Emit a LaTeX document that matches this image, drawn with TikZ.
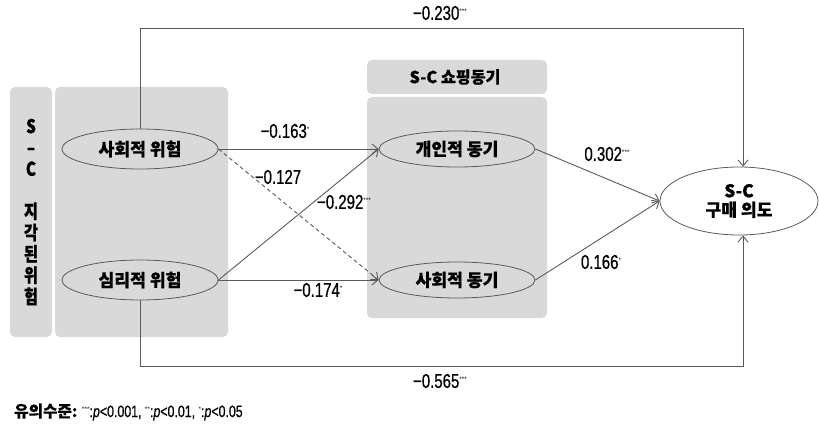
\documentclass[tikz,border=0pt]{standalone}
\usepackage{fontspec}
\setmainfont{Liberation Sans}[FakeStretch=0.75, FakeBold=0.7]
\newfontfamily\starfont{Liberation Sans}
\newfontfamily\kr{Noto Sans CJK KR}[FakeStretch=0.98, FakeBold=0.5]
\newfontfamily\krnarrow{Noto Sans CJK KR}[FakeStretch=0.8, FakeBold=0.5]
\usetikzlibrary{arrows.meta,shapes.geometric,calc}

\definecolor{panel}{HTML}{D9D9D9}
\definecolor{edge}{HTML}{5A5A5A}

% significance marks as small raised stars
\newcommand{\sig}[1]{\raisebox{0.65ex}{\starfont\fontsize{6.5}{6.5}\selectfont #1}}

\tikzset{
  panelbox/.style={fill=panel, draw=none, rounded corners=5pt},
  latent/.style={ellipse, draw=edge, line width=0.8pt, fill=panel,
    minimum width=156pt, minimum height=40pt, inner sep=0pt,
    font=\kr\bfseries\fontsize{17.5}{17.5}\selectfont},
  mediator/.style={latent, minimum height=36pt},
  outcome/.style={latent, fill=white, minimum width=158pt, minimum height=68pt,
    align=center, font=\kr\bfseries\fontsize{17.5}{19}\selectfont},
  path/.style={draw=edge, line width=0.9pt, -{Straight Barb[length=6pt,width=10pt]}},
  weak/.style={path, dashed, dash pattern=on 4pt off 3pt},
  coef/.style={font=\fontsize{20}{20}\selectfont, inner sep=1pt},
  head/.style={font=\kr\bfseries\fontsize{16.5}{16.5}\selectfont, inner sep=0pt},
}

\begin{document}
\begin{tikzpicture}[x=1pt,y=-1pt]
  \useasboundingbox (0,0) rectangle (819,430);

  % grouping panels
  \fill[panelbox] (10,87) rectangle (52,337);
  \fill[panelbox] (55,87) rectangle (228,337);
  \fill[panelbox] (367,60) rectangle (547,94);
  \fill[panelbox] (367,97) rectangle (547,318);

  % vertical title of the risk panel
  \node[inner sep=0pt, align=center, font=\krnarrow\bfseries\fontsize{19}{21.3}\selectfont]
    (risk) at (31,212) {S\\–\\C\\\mbox{}\\지\\각\\된\\위\\험};
  \node[head] (motiv) at (455,77) {S-C 쇼핑동기};

  % latent variables
  \node[latent] (sr) at (140,149) {사회적 위험};
  \node[latent] (pr) at (140,280) {심리적 위험};
  \node[mediator] (pm) at (457,149) {개인적 동기};
  \node[mediator] (sm) at (457,280) {사회적 동기};
  \node[outcome] (pi) at (739,201) {S-C\\구매 의도};

  % structural paths
  \draw[path] (sr.east) -- (pm.west);
  \draw[weak] (sr.east) -- (sm.west);
  \draw[path] (pr.east) -- (pm.west);
  \draw[path] (pr.east) -- (sm.west);
  \draw[path] (pm.east) -- (pi.west);
  \draw[path] (sm.east) -- (pi.west);

  % direct effects routed round the mediators
  \coordinate (topR) at (743,28);
  \coordinate (botR) at (743,366);
  \draw[path] (sr.north) |- (topR) -- (topR |- pi.north);
  \draw[path] (pr.south) |- (botR) -- (botR |- pi.south);

  % coefficients
  \node[coef] (c1) at (440,13) {−0.230\sig{***}};
  \node[coef] (c2) at (285,131) {−0.163\sig{*}};
  \node[coef] (c3) at (278,177) {−0.127};
  \node[coef] (c4) at (344,202) {−0.292\sig{***}};
  \node[coef] (c5) at (318,290) {−0.174\sig{*}};
  \node[coef] (c6) at (607,154) {0.302\sig{***}};
  \node[coef] (c7) at (601,262) {0.166\sig{*}};
  \node[coef] (c8) at (440,381) {−0.565\sig{***}};

  % significance legend
  \node[anchor=west, inner sep=0pt, font=\fontsize{16.5}{16.5}\selectfont] (note) at (14,412)
    {{\kr\bfseries\fontsize{16}{16}\selectfont 유의수준:} \sig{***}:\textit{p}<0.001, \sig{**}:\textit{p}<0.01, \sig{*}:\textit{p}<0.05};
\end{tikzpicture}
\end{document}
